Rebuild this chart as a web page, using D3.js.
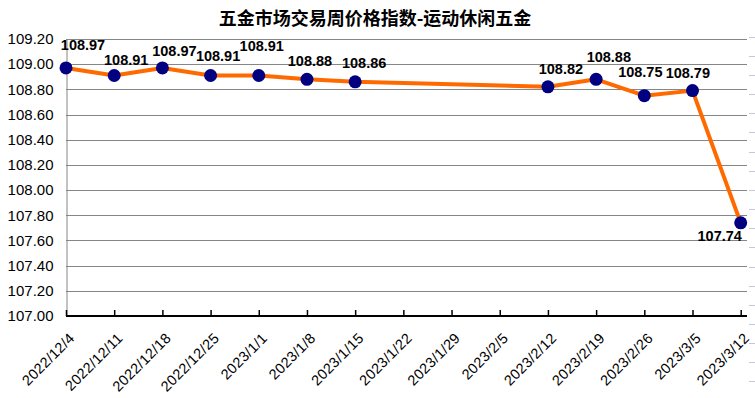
<!DOCTYPE html>
<html><head><meta charset="utf-8">
<script src="https://cdn.jsdelivr.net/npm/d3@7"></script>
<style>
html,body{margin:0;padding:0;background:#fff;}
svg{display:block;}
</style></head>
<body>
<svg id="chart" width="755" height="398"></svg>
<script>
const title = "五金市场交易周价格指数-运动休闲五金";
const categories = ["2022/12/4","2022/12/11","2022/12/18","2022/12/25","2023/1/1","2023/1/8","2023/1/15","2023/1/22","2023/1/29","2023/2/5","2023/2/12","2023/2/19","2023/2/26","2023/3/5","2023/3/12"];
const values = [108.97,108.91,108.97,108.91,108.91,108.88,108.86,null,null,null,108.82,108.88,108.75,108.79,107.74];
const yTicks = [107.0,107.2,107.4,107.6,107.8,108.0,108.2,108.4,108.6,108.8,109.0,109.2];
// manual label nudges (dx, dy) as placed in the original
const labelNudge = [[17,-17.5],[12,-10.5],[12,-12],[7.5,-14.5],[3,-25],[3,-13],[9,-13.5],null,null,null,[13,-12.7],[12.7,-17.6],[-4,-18.4],[-4.7,-12.4],[-21,17.7]];

(function(){
const svg = d3.select("#chart");
const pLeft = 66, pRight = 740.7, pTop = 39, pBottom = 316, gridRight = 747;

const x = d3.scalePoint().domain(categories).range([pLeft, pRight]);
const y = d3.scaleLinear().domain([107.0, 109.2]).range([pBottom, pTop]);

// title
svg.append("text").attr("x", 375).attr("y", 25).attr("text-anchor", "middle")
  .attr("font-family", "'Noto Sans CJK SC', sans-serif").attr("font-weight", "bold")
  .attr("font-size", 18).attr("fill", "#000").text(title);

// gridlines
svg.append("g").selectAll("line").data(yTicks.slice(1)).join("line")
  .attr("x1", pLeft).attr("x2", gridRight)
  .attr("y1", d => Math.round(y(d)) + 0.5).attr("y2", d => Math.round(y(d)) + 0.5)
  .attr("stroke", "#868686").attr("stroke-width", 1);

// right faint decoration ticks
svg.append("g").selectAll("line").data(d3.range(0, 19)).join("line")
  .attr("x1", 749).attr("x2", 755)
  .attr("y1", i => Math.round(36.7 + i * 19.15) + 0.5).attr("y2", i => Math.round(36.7 + i * 19.15) + 0.5)
  .attr("stroke", "#c4c8de").attr("stroke-width", 1);

// y axis
const yAxis = d3.axisLeft(y).tickValues(yTicks).tickFormat(d3.format(".2f")).tickSize(0).tickPadding(13);
const gy = svg.append("g").attr("transform", `translate(${pLeft + 0.5},0)`).call(yAxis);
gy.select(".domain").attr("stroke", "#868686");
gy.selectAll("text").attr("font-family", "'Liberation Sans', Arial, sans-serif").attr("font-size", 15).attr("fill", "#000");

// x axis
const xAxis = d3.axisBottom(x).tickSizeInner(-6).tickSizeOuter(0).tickFormat(d => d);
const gx = svg.append("g").attr("transform", `translate(0,${pBottom})`).call(xAxis);
gx.select(".domain").attr("stroke", "#000").attr("stroke-width", 2).attr("d", `M${pLeft},0H${gridRight}`);
gx.selectAll(".tick line").attr("stroke", "#000").attr("stroke-width", 1.5);
gx.selectAll(".tick text")
  .attr("font-family", "'Liberation Sans', Arial, sans-serif").attr("font-size", 14.5).attr("fill", "#000")
  .attr("letter-spacing", 0.3)
  .attr("text-anchor", "end").attr("dy", null).attr("y", 0)
  .attr("transform", "translate(9,23) rotate(-45)");

// line
const line = d3.line().x(d => x(d.c)).y(d => y(d.v));
const pts = categories.map((c, i) => ({c, v: values[i], i})).filter(d => d.v != null);
svg.append("path").datum(pts).attr("d", line)
  .attr("fill", "none").attr("stroke", "#ff6a00").attr("stroke-width", 4).attr("stroke-linejoin", "round");

// points
svg.append("g").selectAll("circle").data(pts).join("circle")
  .attr("cx", d => x(d.c)).attr("cy", d => y(d.v)).attr("r", 6.5).attr("fill", "#000080");

// labels
svg.append("g").selectAll("text").data(pts).join("text")
  .attr("x", d => x(d.c) + labelNudge[d.i][0]).attr("y", d => y(d.v) + labelNudge[d.i][1])
  .attr("text-anchor", "middle").attr("font-family", "'Liberation Sans', Arial, sans-serif")
  .attr("font-weight", "bold").attr("font-size", 14.5).attr("fill", "#000")
  .text(d => d3.format(".2f")(d.v));
})();
</script>
</body></html>
